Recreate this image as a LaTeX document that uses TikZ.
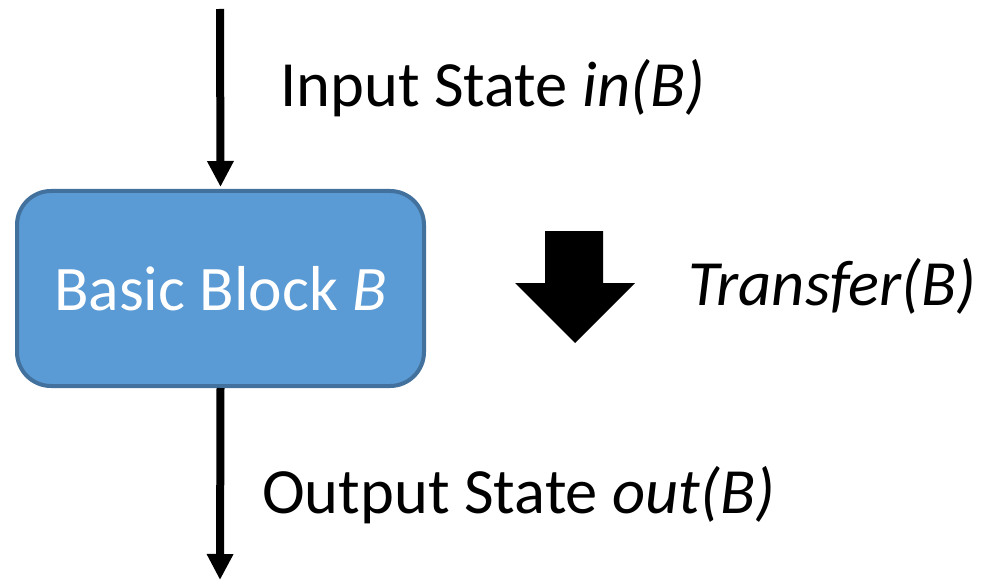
\documentclass[tikz,border=0pt]{standalone}
\usepackage{fontspec}
\setmainfont{Carlito}
\usetikzlibrary{arrows.meta}
\definecolor{boxfill}{HTML}{5B9BD5}
\definecolor{boxline}{HTML}{41719C}
\tikzset{
  lbl/.style={anchor=base west, inner sep=0pt, font=\fontsize{64.5}{76}\selectfont, text=black},
  flow/.style={line width=8pt, -{Triangle[width=25pt,length=26pt]}},
  blockbox/.style={draw=boxline, fill=boxfill, line width=4pt, rounded corners=34pt,
    minimum width=407pt, minimum height=195pt, inner sep=0pt, text=white,
    font=\fontsize{63.5}{75}\selectfont}
}
\begin{document}
\begin{tikzpicture}[x=1pt,y=-1pt]
\useasboundingbox (0,0) rectangle (982,580);
\node[blockbox] (box) at (220.5,288.5) {Basic Block \textit{B}};
\coordinate (top) at (220,9);
\coordinate (bot) at (220,580);
\draw[flow] (top) -- ([yshift=2pt]box.north);
\draw[flow] (box.south) -- (bot);
\node[lbl] (inlbl) at (280,107) {Input State \textit{in(B)}};
\node[lbl] (outlbl) at (262,513) {Output State \textit{out(B)}};
\node[lbl] (tflbl) at (688,305) {\textit{Transfer(B)}};
\fill[black] (545,231) -- (603,231) -- (603,283) -- (635,283) -- (575,343) -- (515,283) -- (545,283) -- cycle;
\end{tikzpicture}
\end{document}
